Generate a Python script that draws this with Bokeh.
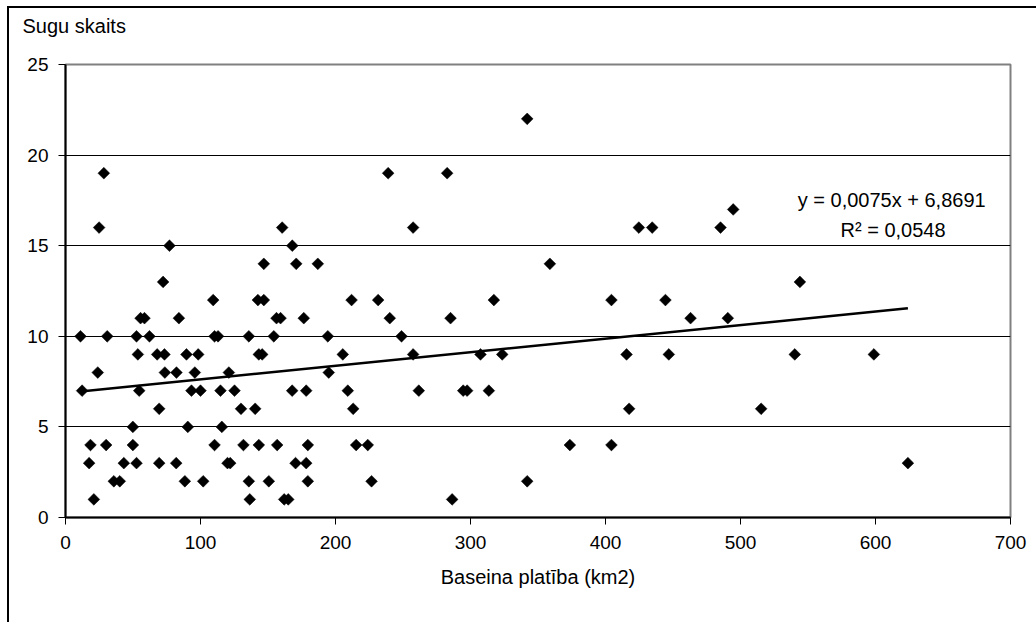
import numpy as np
from bokeh.plotting import figure
from bokeh.models import Label, FixedTicker, InlineStyleSheet
from bokeh.embed import file_html
from bokeh.resources import INLINE

# Basin area (km2) and species count
area = [28.4, 24.9, 77, 72.3, 109.4, 142.5, 55.6, 58.5, 84, 11.1,
        30.9, 52.6, 62.2, 110.4, 113, 135.8, 53.6, 67.9, 73.3, 89.6,
        98.3, 143.2, 145.7, 23.9, 73.6, 82.2, 95.8, 121, 12.3, 54.6,
        93.3, 100, 114.8, 125.2, 69.4, 130, 140.5, 49.9, 90.6, 115.8,
        18.5, 30.1, 49.9, 110.4, 131.8, 143.2, 17.5, 43.2, 52.6, 69.4,
        82, 120, 122, 35.8, 40.2, 88.4, 102, 135.8, 21, 136.5,
        239, 160.5, 257.5, 168, 146.9, 170.9, 186.9, 146.9, 211.9, 231.6,
        156.3, 159.3, 176.5, 240.2, 154.3, 194.3, 248.9, 205.4, 257.5, 195,
        167.9, 178.3, 209.1, 261.7, 213.1, 156.8, 179.5, 215.3, 223.9, 170.4,
        178.3, 150.6, 179.5, 226.7, 162, 165,
        342, 282.7, 358.8, 317.3, 404.4, 285.2, 307.4, 323.5, 294.6, 297.5,
        313.6, 373.6, 404.4, 342, 286.4,
        494.6, 424.7, 434.6, 485.2, 544, 444.4, 463, 490.6, 415.6, 446.9,
        540.2, 598.8, 417.5, 515.3, 624]
species = [19, 16, 15, 13, 12, 12, 11, 11, 11, 10,
           10, 10, 10, 10, 10, 10, 9, 9, 9, 9,
           9, 9, 9, 8, 8, 8, 8, 8, 7, 7,
           7, 7, 7, 7, 6, 6, 6, 5, 5, 5,
           4, 4, 4, 4, 4, 4, 3, 3, 3, 3,
           3, 3, 3, 2, 2, 2, 2, 2, 1, 1,
           19, 16, 16, 15, 14, 14, 14, 12, 12, 12,
           11, 11, 11, 11, 10, 10, 10, 9, 9, 8,
           7, 7, 7, 7, 6, 4, 4, 4, 4, 3,
           3, 2, 2, 2, 1, 1,
           22, 19, 14, 12, 12, 11, 9, 9, 7, 7,
           7, 4, 4, 2, 1,
           17, 16, 16, 16, 13, 12, 11, 11, 9, 9,
           9, 9, 6, 6, 3]

slope = 0.0075
intercept = 6.8691
r_squared = 0.0548

x_ticks = [0, 100, 200, 300, 400, 500, 600, 700]
y_ticks = [0, 5, 10, 15, 20, 25]
x_title = "Baseina platība (km2)"
y_title = "Sugu skaits"
eq_text = "y = 0,0075x + 6,8691"
r2_text = "R² = 0,0548"

FONT = "Liberation Sans"
TICK_FS = "19px"
FS = "20px"

# outer chart frame (cropped at right and bottom, as in the reference)
frame_css = InlineStyleSheet(css="""
:host { position: relative; }
:host::after {
  content: ''; position: absolute; left: 7px; top: 6px;
  width: 1029px; height: 616px; box-sizing: border-box;
  border-left: 2px solid black; border-top: 2px solid black;
  pointer-events: none;
}
""")

p = figure(width=1036, height=622, x_range=(0, 700), y_range=(0, 25),
           output_backend="svg", toolbar_location=None,
           min_border_left=65, min_border_right=26,
           min_border_top=64, min_border_bottom=105,
           stylesheets=[frame_css])
p.background_fill_color = "white"
p.border_fill_color = "white"
p.outline_line_color = "#808080"
p.outline_line_width = 2

# y title shown horizontally at top-left
p.title.text = y_title
p.title.align = "left"
p.title.offset = -43
p.title.standoff = 10
p.title.vertical_align = "bottom"
p.title.padding = dict(left=0, right=0, top=0, bottom=23)
p.title.text_font = FONT
p.title.text_font_size = FS
p.title.text_font_style = "normal"
p.title.text_color = "black"

p.xgrid.visible = False
p.ygrid.ticker = FixedTicker(ticks=[5, 10, 15, 20])
p.ygrid.grid_line_color = "black"
p.ygrid.grid_line_width = 1

for ax, ticks in ((p.xaxis, x_ticks), (p.yaxis, y_ticks)):
    ax.ticker = FixedTicker(ticks=ticks)
    ax.minor_tick_line_color = None
    ax.major_tick_in = 0
    ax.major_tick_out = 7
    ax.major_tick_line_color = "black"
    ax.major_tick_line_width = 1
    ax.axis_line_color = "black"
    ax.axis_line_width = 2
    ax.major_label_text_font = FONT
    ax.major_label_text_font_size = TICK_FS
    ax.major_label_text_color = "black"

p.yaxis.major_label_standoff = 10
p.xaxis.major_label_standoff = 11
p.xaxis.axis_label = x_title
p.xaxis.axis_label_text_font = FONT
p.xaxis.axis_label_text_font_size = FS
p.xaxis.axis_label_text_font_style = "normal"
p.xaxis.axis_label_text_color = "black"
p.xaxis.axis_label_standoff = 14

# points
p.scatter(area, species, marker="square", size=8.3, angle=np.pi / 4,
          fill_color="black", line_color="black", line_width=0.5)

# linear trend line over data range
xs = np.array([min(area), max(area)])
p.line(xs, slope * xs + intercept, line_color="black", line_width=2.5)

p.add_layout(Label(x=612, y=17.52, text=eq_text, text_font=FONT,
                   text_font_size=FS, text_baseline="alphabetic",
                   text_align="center", text_color="black"))
p.add_layout(Label(x=613, y=15.87, text=r2_text, text_font=FONT,
                   text_font_size=FS, text_baseline="alphabetic",
                   text_align="center", text_color="black"))

open("out.html", "w").write(file_html(p, INLINE))
